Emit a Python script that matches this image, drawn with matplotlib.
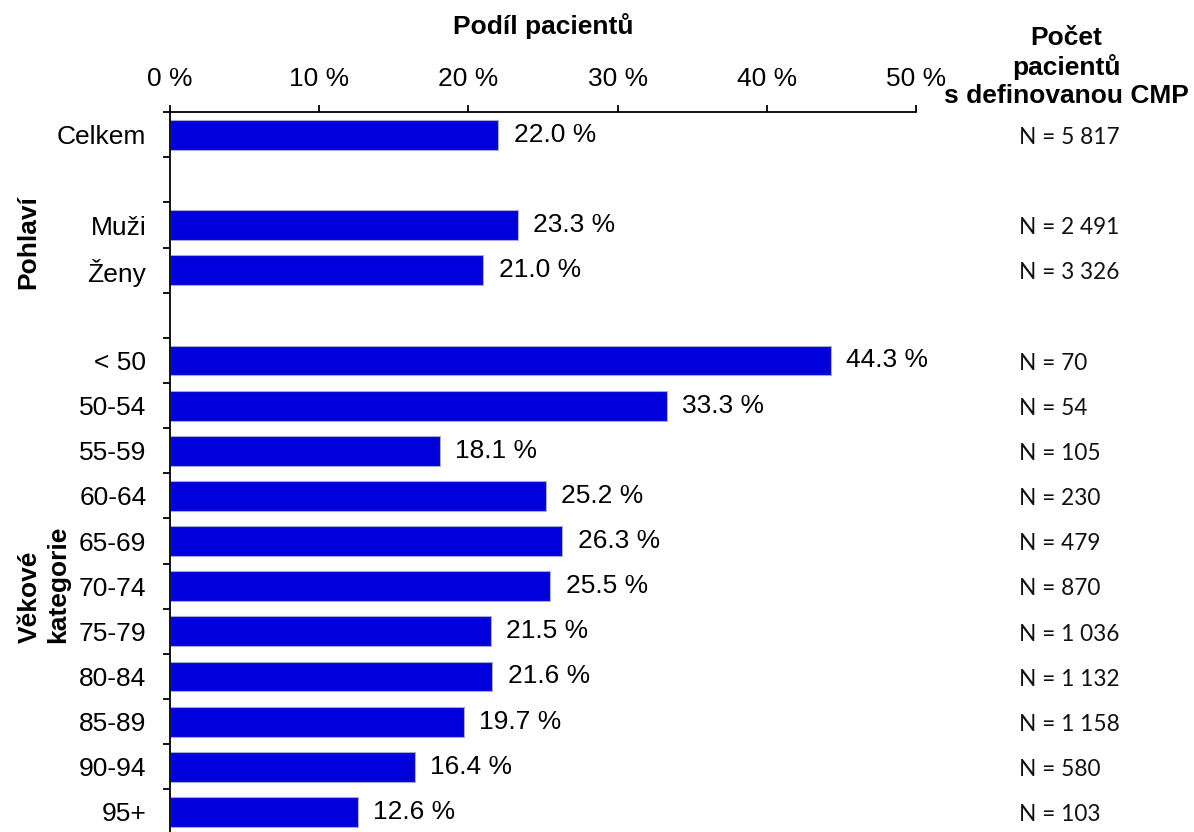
import matplotlib
matplotlib.use('Agg')
import matplotlib.pyplot as plt
from matplotlib.transforms import blended_transform_factory

plt.rcParams['font.family'] = ['Liberation Sans', 'DejaVu Sans']

# data
rows = ['Celkem', 'Muži', 'Ženy', '< 50', '50-54', '55-59', '60-64', '65-69',
        '70-74', '75-79', '80-84', '85-89', '90-94', '95+']
shares = [22.0, 23.3, 21.0, 44.3, 33.3, 18.1, 25.2, 26.3, 25.5, 21.5, 21.6,
          19.7, 16.4, 12.6]
counts = ['5 817', '2 491', '3 326', '70', '54', '105', '230', '479', '870',
          '1 036', '1 132', '1 158', '580', '103']
xticks = [0, 10, 20, 30, 40, 50]

# group structure: an empty slot is left after Celkem and after Ženy
group_sizes = [1, 2, 11]
group_names = ['', 'Pohlaví', 'Věkové\nkategorie']

positions = []
group_centres = []
slot = 0
for size in group_sizes:
    start = slot
    for k in range(size):
        positions.append(slot)
        slot += 1
    group_centres.append((start + slot - 1) / 2)
    slot += 1
n_slots = slot - 1

W, H = 1194, 832
fig = plt.figure(figsize=(W / 100, H / 100), dpi=100)
ax = fig.add_axes([170 / W, -0.003, 746 / W, 0.8682])

fs = 19
bar_color = '#0000dd'
ax.barh(positions, shares, height=0.66, color=bar_color,
        edgecolor='#a8a8d8', linewidth=0.8)

for p, v in zip(positions, shares):
    ax.annotate(f'{v:.1f} %', (v, p), xytext=(11, 0), textcoords='offset points',
                ha='left', va='center', fontsize=fs)

ax.set_xlim(0, 50)
ax.set_ylim(n_slots - 0.5, -0.5)

# x axis on top
ax.xaxis.tick_top()
ax.set_xticks(xticks)
ax.set_xticklabels([f'{t} %' for t in xticks])
ax.tick_params(axis='x', direction='out', length=5, width=1.3, pad=10,
               labelsize=fs)
ax.xaxis.set_label_position('top')
ax.set_xlabel('Podíl pacientů', fontsize=fs, fontweight='bold', labelpad=24)

# y axis: labels at bar centres, tick marks between slots
ax.set_yticks(positions)
ax.set_yticklabels(rows)
ax.tick_params(axis='y', which='major', length=0, pad=17, labelsize=fs)
ax.set_yticks([i - 0.5 for i in range(n_slots + 1)], minor=True)
ax.tick_params(axis='y', which='minor', direction='out', length=5, width=1.3)

for side in ['right', 'bottom']:
    ax.spines[side].set_visible(False)
for side in ['left', 'top']:
    ax.spines[side].set_linewidth(1.3)

# group labels on the left
tr = blended_transform_factory(fig.transFigure, ax.transData)
group_x = [0, 28 / W, 44 / W]
group_dy = [0, 4, 1]
for name, c, gx, dy in zip(group_names, group_centres, group_x, group_dy):
    if name:
        ax.annotate(name, (gx, c), xycoords=tr, xytext=(0, dy),
                    textcoords='offset points', rotation=90, ha='center',
                    va='center', multialignment='left', fontsize=fs,
                    fontweight='bold', annotation_clip=False)

# patient counts column on the right
fig.text(1066 / W, 1 - 67 / H, 'Počet\npacientů\ns definovanou CMP',
         ha='center', va='center', fontsize=fs, fontweight='bold',
         linespacing=1.2)
for p, n in zip(positions, counts):
    ax.annotate(f'N = {n}', (1019 / W, p), xycoords=tr, xytext=(0, -2),
                textcoords='offset points', ha='left', va='center',
                fontsize=16.3, family=['Lato', 'DejaVu Sans'],
                color='#111111', annotation_clip=False)

fig.savefig('out.png', dpi=100)
